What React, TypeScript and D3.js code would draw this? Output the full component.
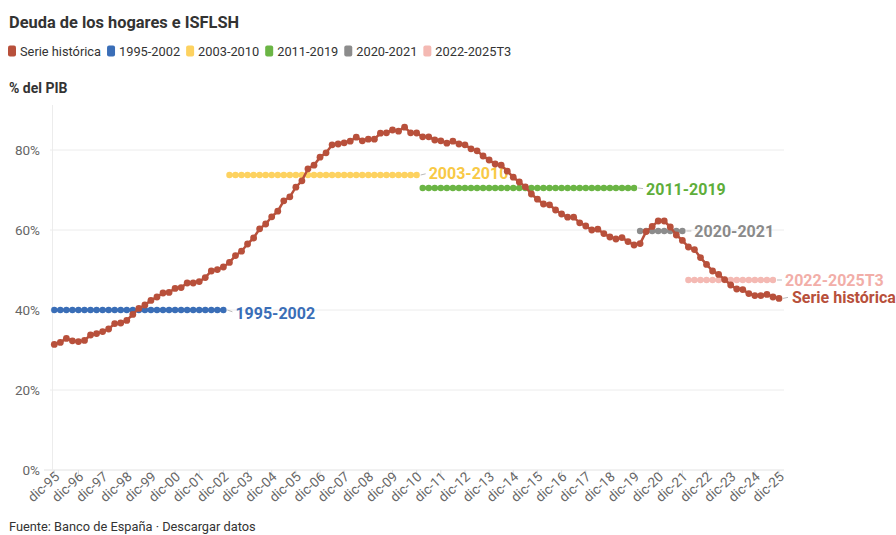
import React, { useEffect, useRef } from "react";
import * as d3 from "d3";

// quarterly series, dic-95 ... dic-25 (one value per quarter)
const serieHistorica = [
  31.4, 31.9, 32.9, 32.3, 32.1, 32.4, 33.75, 34.1, 34.6, 35.25,
  36.6, 36.75, 37.4, 38.9, 40.4, 41.25, 42.4, 43.25, 44.25, 44.4,
  45.4, 45.6, 46.75, 46.75, 47.1, 48.1, 49.75, 50.1, 50.75, 51.9,
  53.6, 54.7, 56.5, 58.0, 60.3, 61.5, 63.3, 64.7, 67.3, 68.3,
  70.7, 72.3, 75.3, 76.2, 78.2, 79.3, 81.3, 81.5, 81.8, 82.2,
  83.2, 82.3, 82.7, 82.7, 84.2, 84.3, 85.0, 84.7, 85.7, 84.3,
  84.25, 83.3, 83.3, 82.5, 82.3, 81.7, 82.2, 81.5, 81.3, 80.3,
  79.8, 78.5, 77.5, 76.5, 76.2, 74.7, 73.2, 72.0, 70.8, 69.0,
  67.7, 66.5, 66.3, 65.0, 64.0, 63.2, 63.2, 61.8, 61.0, 60.0,
  60.2, 59.1, 58.25, 57.75, 58.1, 57.1, 56.25, 56.6, 59.6, 60.9,
  62.25, 62.25, 60.75, 58.75, 57.4, 55.75, 55.1, 53.1, 51.4, 49.75,
  48.9, 47.6, 46.25, 45.25, 45.1, 44.1, 43.6, 43.6, 43.9, 43.25,
  42.9,
];

const tickLabels = [
  "dic-95", "dic-96", "dic-97", "dic-98", "dic-99", "dic-00", "dic-01", "dic-02",
  "dic-03", "dic-04", "dic-05", "dic-06", "dic-07", "dic-08", "dic-09", "dic-10",
  "dic-11", "dic-12", "dic-13", "dic-14", "dic-15", "dic-16", "dic-17", "dic-18",
  "dic-19", "dic-20", "dic-21", "dic-22", "dic-23", "dic-24", "dic-25",
];

// period averages: name, first and last quarter index, level
const periodNames = ["1995-2002", "2003-2010", "2011-2019", "2020-2021", "2022-2025T3"];
const periodStart = [0, 29, 61, 97, 105];
const periodEnd = [28, 60, 96, 104, 119];
const periodValues = [40.0, 73.75, 70.5, 59.75, 47.5];

const yTicks = [0, 20, 40, 60, 80];

const RED = "#b8503b";
const periodColors = ["#3a6eb7", "#fdd260", "#6bb545", "#8c8c8c", "#f4b9b3"];
const periodLabelColors = ["#3a6eb7", "#f8c945", "#5fae3a", "#8a8a8a", "#f2aea8"];

const FONT = "Roboto, 'Noto Sans', sans-serif";

const App = () => {
  const ref = useRef<SVGSVGElement>(null);

  useEffect(() => {
    const svg = d3.select(ref.current);
    svg.selectAll("*").remove();

    const x = d3.scaleLinear().domain([0, 120]).range([54.3, 779]);
    const y = d3.scaleLinear().domain([0, 80]).range([470, 150]);

    // title
    svg.append("text")
      .attr("x", 9).attr("y", 28)
      .style("font-family", FONT).style("font-size", "16.4px").style("font-weight", 700)
      .style("fill", "#333")
      .text("Deuda de los hogares e ISFLSH");

    // legend
    const legendItems = [{ name: "Serie histórica", color: RED }].concat(
      periodNames.map((n, i) => ({ name: n, color: periodColors[i] }))
    );
    let lx = 8;
    legendItems.forEach((it) => {
      svg.append("rect")
        .attr("x", lx).attr("y", 45.5).attr("width", 8).attr("height", 11)
        .attr("rx", 2).style("fill", it.color);
      const t = svg.append("text")
        .attr("x", lx + 12).attr("y", 55.5)
        .style("font-family", FONT).style("font-size", "12.8px").style("fill", "#333")
        .text(it.name);
      const w = (t.node() as SVGTextElement).getComputedTextLength();
      lx += 12 + w + 6;
    });

    svg.append("text")
      .attr("x", 9).attr("y", 93)
      .style("font-family", FONT).style("font-size", "14px").style("font-weight", 700)
      .style("fill", "#333")
      .text("% del PIB");

    // grid + y labels
    const grid = svg.append("g");
    yTicks.forEach((t) => {
      grid.append("line")
        .attr("x1", t === 0 ? 44 : 50).attr("x2", 784)
        .attr("y1", y(t)).attr("y2", y(t))
        .style("stroke", t === 0 ? "#e2e2e2" : "#ececec").style("stroke-width", 1);
      grid.append("text")
        .attr("x", 40).attr("y", y(t) + 5)
        .attr("text-anchor", "end")
        .style("font-family", FONT).style("font-size", "13.5px").style("fill", "#666")
        .text(t + "%");
    });
    grid.append("line")
      .attr("x1", 52.5).attr("x2", 52.5).attr("y1", 105).attr("y2", 470)
      .style("stroke", "#ececec");

    // x ticks and labels
    tickLabels.forEach((lab, i) => {
      const xx = x(i * 4);
      grid.append("line")
        .attr("x1", xx).attr("x2", xx).attr("y1", 470).attr("y2", 475)
        .style("stroke", "#dcdcdc");
      grid.append("text")
        .attr("transform", `translate(${xx + 6},${478}) rotate(-42)`)
        .attr("text-anchor", "end")
        .style("font-family", FONT).style("font-size", "13.5px").style("fill", "#666")
        .text(lab);
    });

    const line = d3.line<[number, number]>().x((d) => x(d[0])).y((d) => y(d[1]));

    // direct labels (below the lines)
    const labelNudge = [3, -2, 1, 0, 0];
    periodNames.forEach((n, i) => {
      const ex = x(periodEnd[i]);
      const ey = y(periodValues[i]);
      svg.append("line")
        .attr("x1", ex + 4).attr("x2", ex + 9)
        .attr("y1", ey).attr("y2", ey + labelNudge[i] * 0.6)
        .style("stroke", "#bbb").style("stroke-width", 1);
      svg.append("text")
        .attr("x", ex + 12).attr("y", ey + labelNudge[i] + 5.5)
        .style("font-family", FONT).style("font-size", "16px").style("font-weight", 700)
        .style("fill", periodLabelColors[i])
        .text(n);
    });
    const last = serieHistorica.length - 1;
    svg.append("line")
      .attr("x1", x(last) + 4).attr("x2", x(last) + 9)
      .attr("y1", y(serieHistorica[last])).attr("y2", y(serieHistorica[last]) - 1)
      .style("stroke", "#bbb");
    svg.append("text")
      .attr("x", x(last) + 13).attr("y", y(serieHistorica[last]) + 5)
      .style("font-family", FONT).style("font-size", "16px").style("font-weight", 700)
      .style("fill", RED)
      .text("Serie histórica");

    // period average lines
    periodNames.forEach((n, i) => {
      const pts: [number, number][] = d3.range(periodStart[i], periodEnd[i] + 1)
        .map((k) => [k, periodValues[i]]);
      const g = svg.append("g");
      g.append("path").attr("d", line(pts) || "")
        .style("fill", "none").style("stroke", periodColors[i]).style("stroke-width", 3);
      g.selectAll("circle").data(pts).enter().append("circle")
        .attr("cx", (d) => x(d[0])).attr("cy", (d) => y(d[1])).attr("r", 3.2)
        .style("fill", periodColors[i]);
    });

    // historical series
    const serPts: [number, number][] = serieHistorica.map((v, i) => [i, v]);
    const gs = svg.append("g");
    gs.append("path").attr("d", line(serPts) || "")
      .style("fill", "none").style("stroke", RED).style("stroke-width", 2.5);
    gs.selectAll("circle").data(serPts).enter().append("circle")
      .attr("cx", (d) => x(d[0])).attr("cy", (d) => y(d[1])).attr("r", 3.4)
      .style("fill", RED);

    // source
    svg.append("text")
      .attr("x", 9).attr("y", 531)
      .style("font-family", FONT).style("font-size", "12.8px").style("fill", "#333")
      .text("Fuente: Banco de España · Descargar datos");
  }, []);

  return (
    <svg
      ref={ref}
      width={896}
      height={535}
      style={{ position: "absolute", left: 0, top: 0, background: "#fff" }}
    />
  );
};

export default App;
